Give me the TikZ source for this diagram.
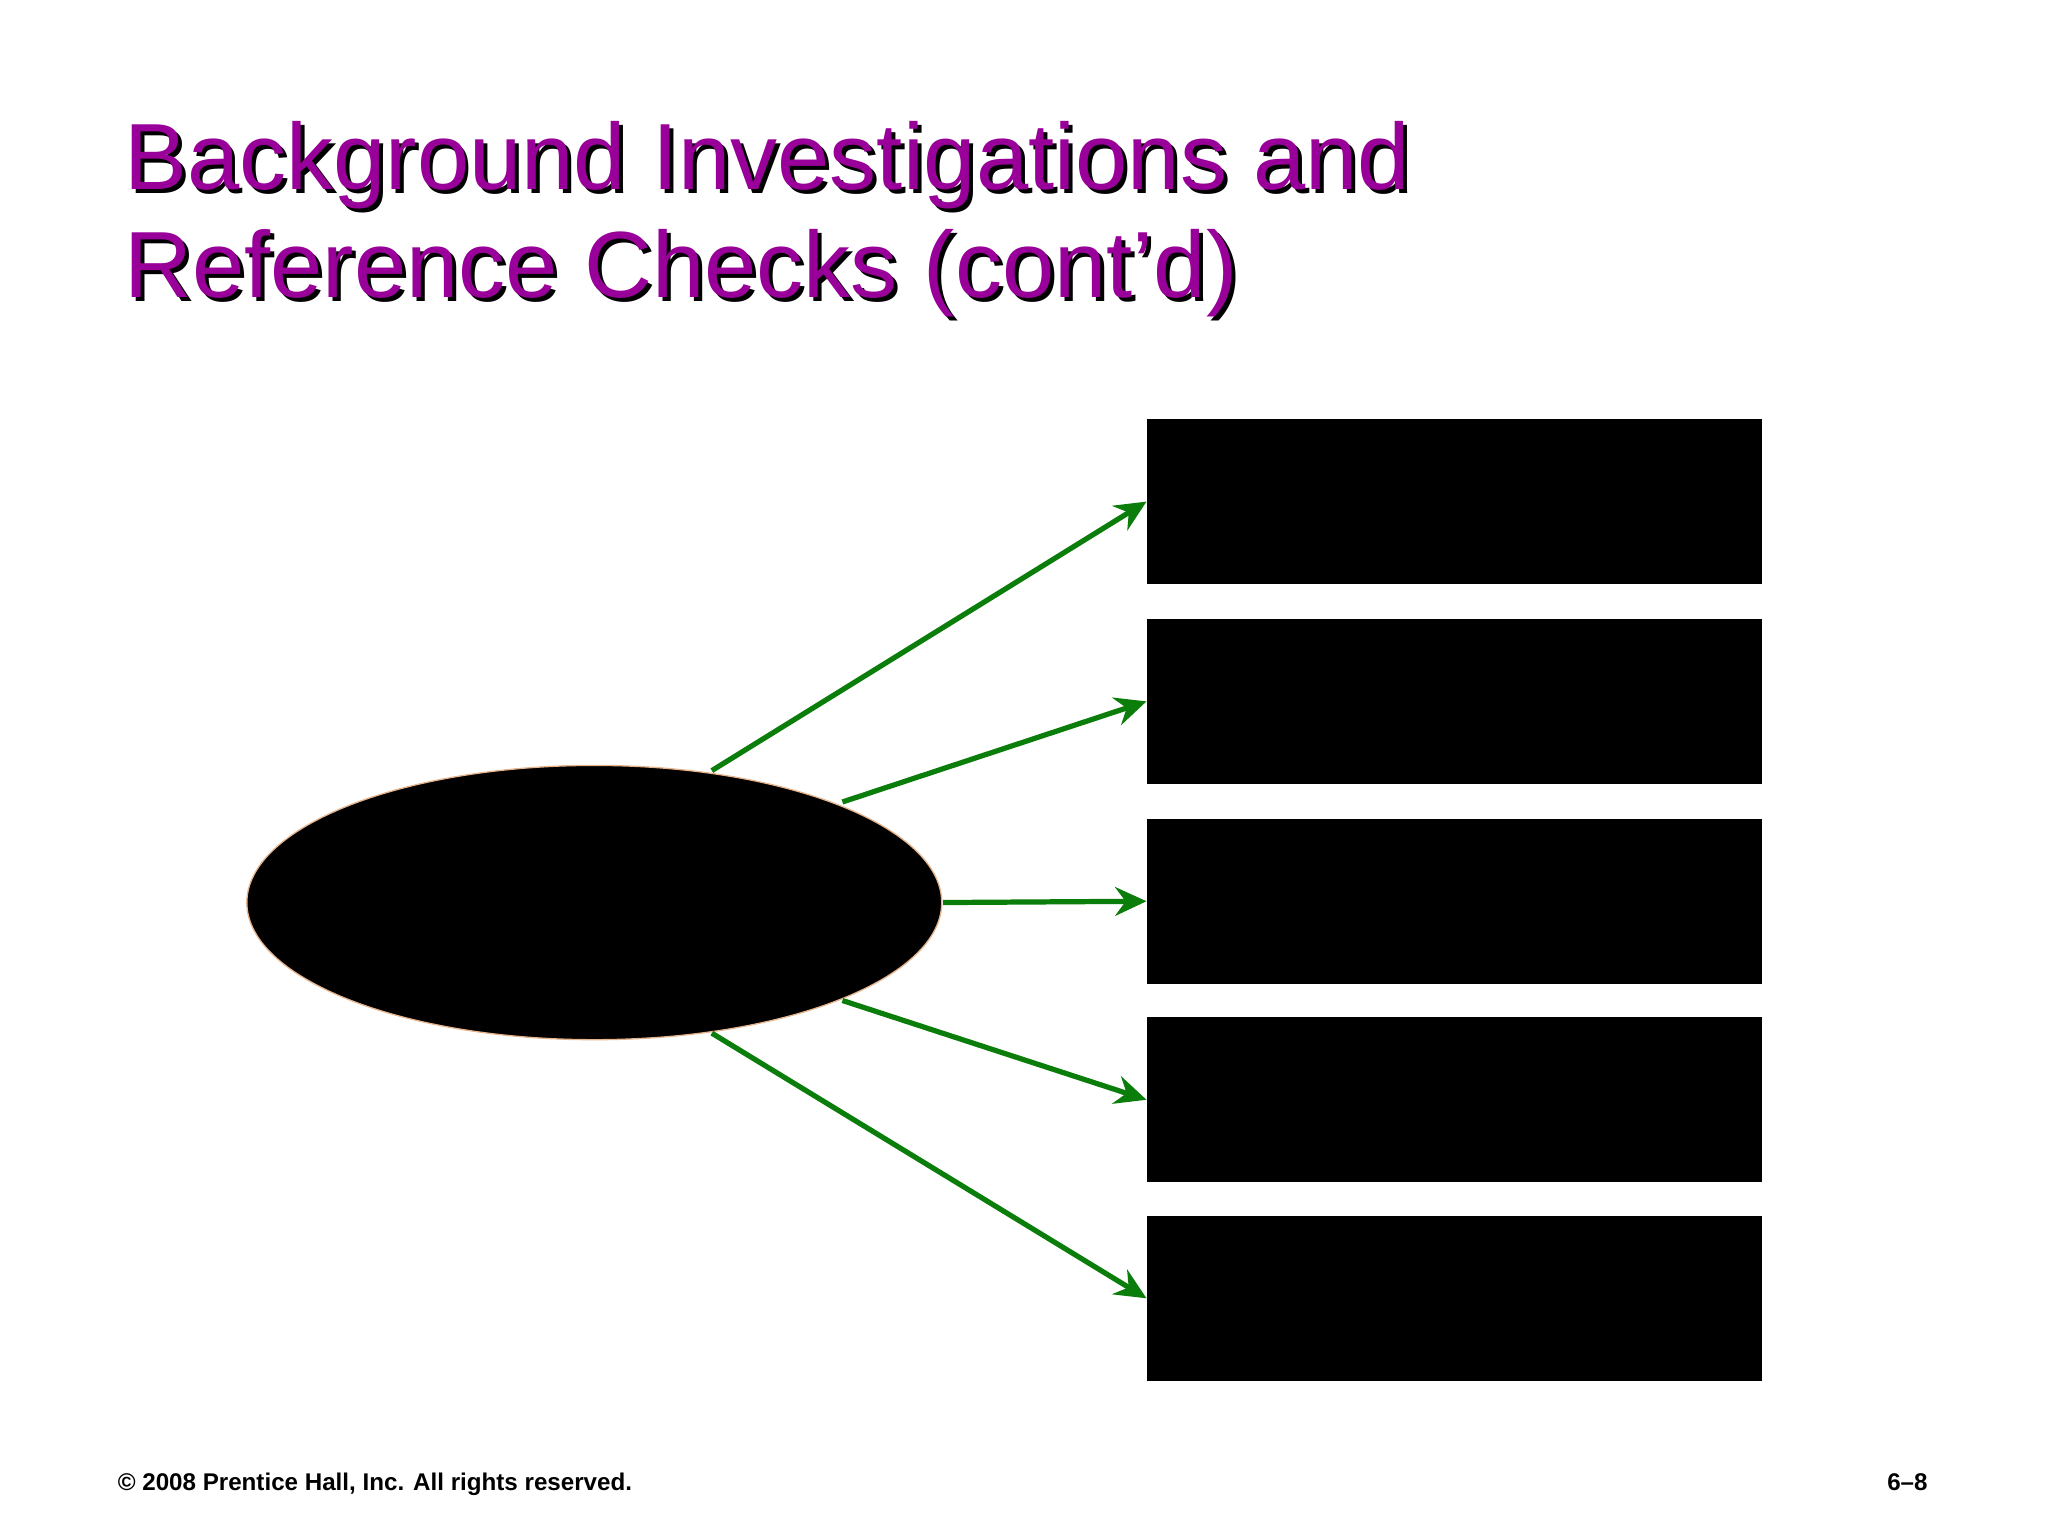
\documentclass[tikz,border=0pt]{standalone}
\usepackage{fontspec}
\setmainfont{Liberation Sans}
\usetikzlibrary{arrows.meta,shapes.geometric}
\definecolor{ttl}{HTML}{990099}
\definecolor{arr}{HTML}{0B7D0B}
\begin{document}
\begin{tikzpicture}[x=1pt,y=-1pt,
  box/.style={fill=black,draw=none,minimum width=471pt,minimum height=126pt,inner sep=0pt},
  conn/.style={draw=arr,line width=4pt,-{Stealth[length=24pt,width=22pt,inset=8pt]}},
  ttltext/.style={anchor=base west,inner sep=0pt,font=\fontsize{72}{80}\selectfont}]
\useasboundingbox[fill=white] (0,0) rectangle (1568,1176);
\foreach \t/\y [count=\i] in {Background Investigations and/145, Reference Checks (cont’d)/228}{
  \node[ttltext,text=black] (s\i) at (98,\y+3) {\t};
  \node[ttltext,text=ttl] (t\i) at (95,\y) {\t};
}
\node[ellipse,fill=black,draw={rgb,255:red,230;green,180;blue,140},line width=1pt,minimum width=532pt,minimum height=210pt,inner sep=0pt] (e) at (455,691) {};
\node[box] (b1) at (1113.5,384) {};
\node[box] (b2) at (1113.5,537) {};
\node[box] (b3) at (1113.5,690) {};
\node[box] (b4) at (1113.5,842) {};
\node[box] (b5) at (1113.5,994) {};
\coordinate (s1) at (545,590);
\coordinate (s2) at (645,614);
\coordinate (s3) at (722,691);
\coordinate (s4) at (645,766);
\coordinate (s5) at (545,791);
\draw[conn] (s1) -- (b1.west);
\draw[conn] (s2) -- (b2.west);
\draw[conn] (s3) -- (b3.west);
\draw[conn] (s4) -- (b4.west);
\draw[conn] (s5) -- (b5.west);
\node[anchor=base west,inner sep=0pt,font=\bfseries\fontsize{18.5}{20}\selectfont] (f1) at (90,1141) {© 2008 Prentice Hall, Inc. All rights reserved.};
\node[anchor=base east,inner sep=0pt,font=\bfseries\fontsize{18.5}{20}\selectfont] (f2) at (1476,1141) {6–8};
\end{tikzpicture}
\end{document}
